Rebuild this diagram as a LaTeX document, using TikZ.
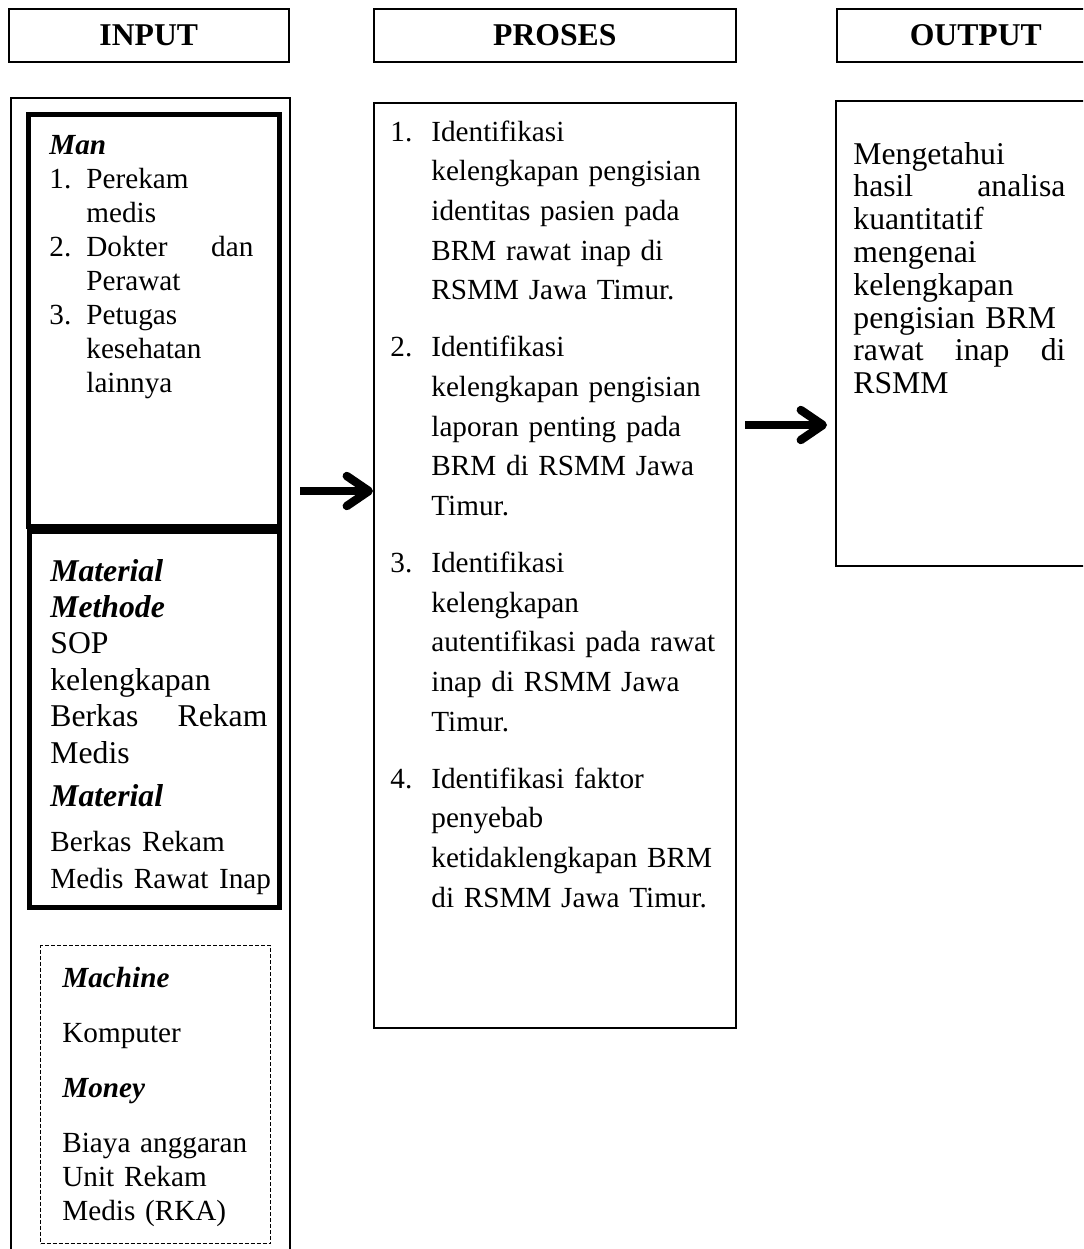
\documentclass[tikz,border=0pt]{standalone}
\usepackage{fontspec}
\setmainfont{Liberation Serif}
\usetikzlibrary{arrows.meta}

\newlength{\numw}
\newcommand{\nr}[1]{\makebox[\numw][l]{#1}}
\newcommand{\ind}{\hspace*{\numw}}
\newcommand{\hd}[1]{\textbf{\textit{#1}}}

\tikzset{
  head/.style={draw, line width=0.8pt, anchor=north west, inner sep=0,
    minimum height=26.5pt, font=\fontsize{15.85}{18}\selectfont\bfseries},
  frame/.style={draw, line width=0.8pt, anchor=north west, inner sep=0},
  heavy/.style={draw, line width=2.6pt, anchor=north west, inner sep=0},
  dashframe/.style={draw, line width=0.7pt, dash pattern=on 2pt off 1pt,
    anchor=north west, inner sep=0},
  txt/.style={anchor=base west, inner sep=0, align=left},
  arr/.style={line width=4.2pt, -{Straight Barb[length=11pt,width=15pt,
    line cap=round, line join=round]}}
}

\begin{document}
\begin{tikzpicture}[x=0.5pt, y=-0.5pt]
  \useasboundingbox (0,0) rectangle (1083,1249);
  \clip (0,0) rectangle (1083,1249);
  \fill[white] (0,0) rectangle (1083,1249);

  \node[head, minimum width=140pt] (inhead) at (8,8) {INPUT};
  \node[head, minimum width=181pt] (prhead) at (373,8) {PROSES};
  \node[head, minimum width=139pt] (outhead) at (836,8) {OUTPUT};

  \node[frame, minimum width=139.5pt, minimum height=583pt] (inbox) at (10,97) {};
  \node[heavy, minimum width=125.5pt, minimum height=206pt] (manbox) at (26,112) {};
  \node[heavy, minimum width=125pt, minimum height=188pt] (matbox) at (27,529) {};
  \node[dashframe, minimum width=115pt, minimum height=149pt] (dashbox) at (40,945) {};
  \node[frame, minimum width=181pt, minimum height=462.5pt] (prbox) at (373,102) {};
  \node[frame, minimum width=139.5pt, minimum height=232.5pt] (outbox) at (835,100) {};

  \node[txt, text width=102pt,
    font=\fontsize{14.6}{17}\selectfont\setlength{\numw}{18.5pt}] (mantxt) at (49,154) {
    \hd{Man}\\
    \nr{1.}Perekam\\
    \ind medis\\
    \nr{2.}Dokter\hfill dan\\
    \ind Perawat\\
    \nr{3.}Petugas\\
    \ind kesehatan\\
    \ind lainnya};

  \node[txt, text width=108.5pt, font=\fontsize{15.85}{18.2}\selectfont] (mattxt) at (50,581) {
    \hd{Material}\\
    \hd{Methode}\\
    SOP\\
    kelengkapan\\
    Berkas\hfill Rekam\\
    Medis\\[3.5pt]
    \hd{Material}\\[4.5pt]
    {\fontsize{14.6}{18.2}\selectfont \mbox{Berkas Rekam}\\
    \mbox{Medis Rawat Inap}}};

  \node[txt, text width=104pt, font=\fontsize{14.6}{17}\selectfont] (dashtxt) at (62,987) {
    \hd{Machine}\\[10.5pt]
    Komputer\\[10.5pt]
    \hd{Money}\\[10.5pt]
    Biaya anggaran\\
    Unit Rekam\\
    Medis (RKA)};

  \node[txt, text width=168pt,
    font=\fontsize{14.6}{19.85}\selectfont\setlength{\numw}{20.5pt}] (prtxt) at (390,141) {
    \nr{1.}Identifikasi\\
    \ind kelengkapan pengisian\\
    \ind identitas pasien pada\\
    \ind BRM rawat inap di\\
    \ind RSMM Jawa Timur.\\[8.6pt]
    \nr{2.}Identifikasi\\
    \ind kelengkapan pengisian\\
    \ind laporan penting pada\\
    \ind BRM di RSMM Jawa\\
    \ind Timur.\\[8.6pt]
    \nr{3.}Identifikasi\\
    \ind kelengkapan\\
    \ind autentifikasi pada rawat\\
    \ind inap di RSMM Jawa\\
    \ind Timur.\\[8.6pt]
    \nr{4.}Identifikasi faktor\\
    \ind penyebab\\
    \ind ketidaklengkapan BRM\\
    \ind di RSMM Jawa Timur.};

  \node[txt, text width=106pt, font=\fontsize{15.85}{16.4}\selectfont] (outtxt) at (853,164) {
    Mengetahui\\
    hasil\hfill analisa\\
    kuantitatif\\
    mengenai\\
    kelengkapan\\
    pengisian BRM\\
    rawat\hfill inap\hfill di\\
    RSMM};

  \coordinate (a1) at (300,491);
  \coordinate (a2) at (745,425);
  \draw[arr] (a1) -- (a1 -| prbox.west);
  \draw[arr, shorten >=4pt] (a2) -- (a2 -| outbox.west);
\end{tikzpicture}
\end{document}
